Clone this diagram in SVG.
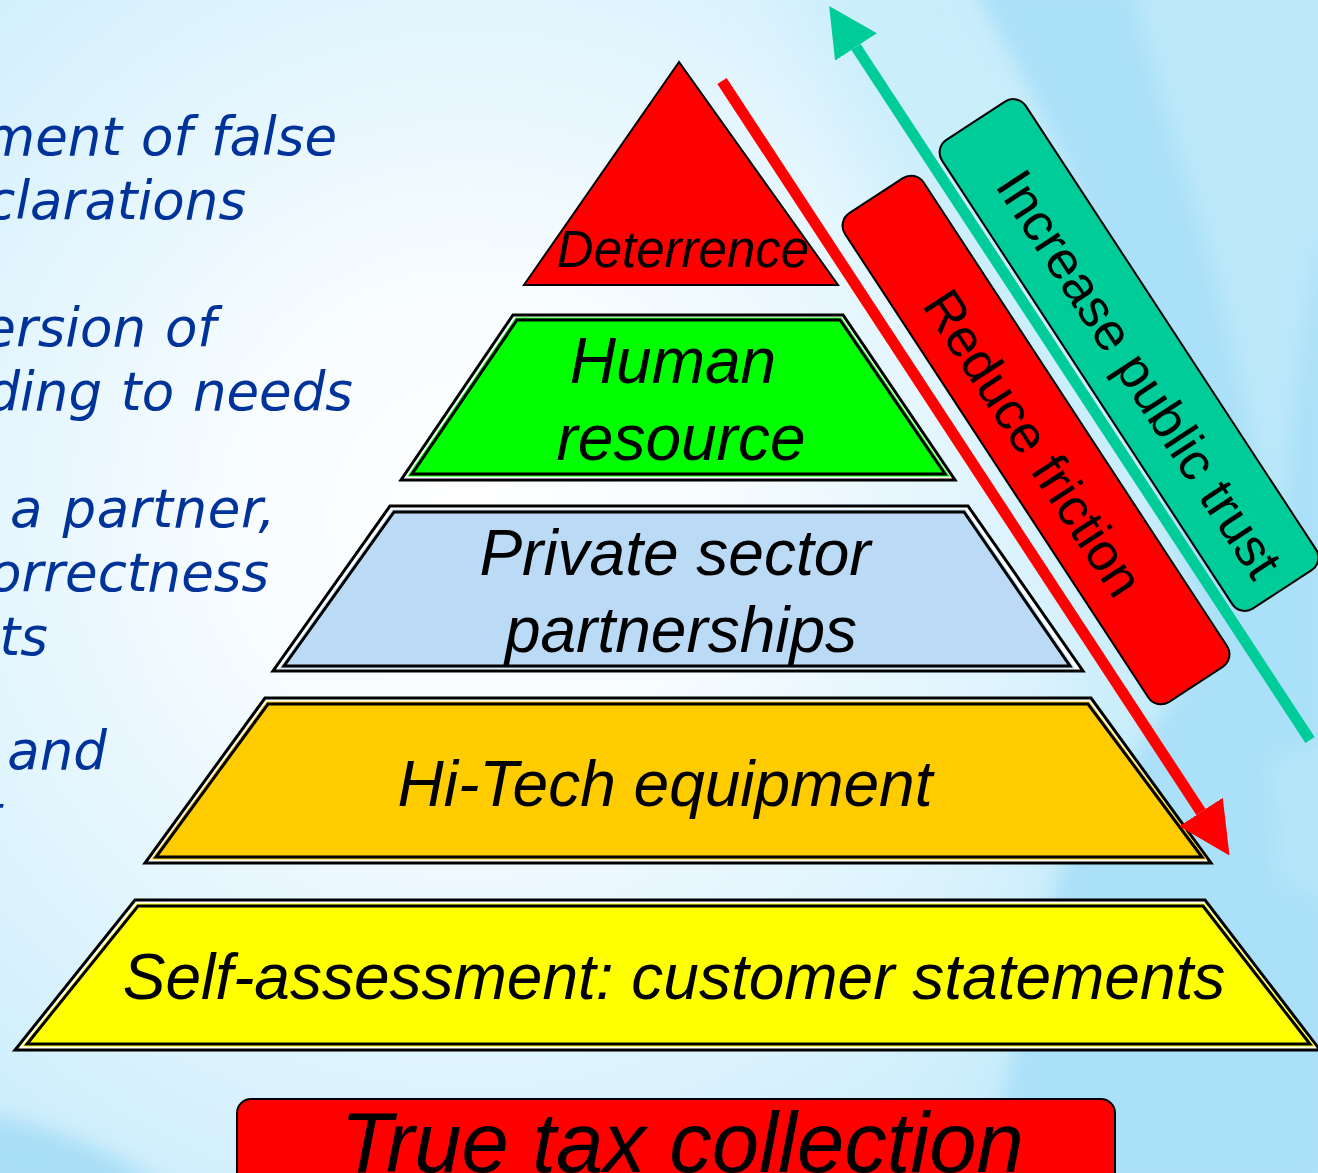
<svg xmlns="http://www.w3.org/2000/svg" width="1318" height="1173" viewBox="0 0 1318 1173">
<style>
.side{font-family:"DejaVu Sans",Verdana,sans-serif;font-style:oblique;font-size:53px;word-spacing:2px;fill:#003399;text-anchor:end}
.lab{font-family:"Liberation Sans",Arial,sans-serif;font-style:italic;fill:#000;text-anchor:middle}
.rot{font-family:"Liberation Sans",Arial,sans-serif;font-size:53px;fill:#000;text-anchor:middle}
.out{fill:#fff;stroke:#000;stroke-width:3}
.inn{stroke:#000;stroke-width:3}
.mid{stroke-width:5;stroke-linejoin:miter}
</style>
<defs>
<radialGradient id="bg" gradientUnits="userSpaceOnUse" cx="470" cy="520" r="960">
<stop offset="0" stop-color="#ffffff"/><stop offset="0.25" stop-color="#f7fcff"/><stop offset="0.6" stop-color="#dcf3fd"/><stop offset="1" stop-color="#bde8fa"/>
</radialGradient>
<filter id="soft" x="-20%" y="-20%" width="140%" height="140%"><feGaussianBlur stdDeviation="10"/></filter>
<filter id="softer" x="-30%" y="-30%" width="160%" height="160%"><feGaussianBlur stdDeviation="35"/></filter>
<marker id="headG" markerUnits="userSpaceOnUse" markerWidth="49" markerHeight="50" refX="0" refY="25" orient="auto"><path d="M0 0L49 25L0 50z" fill="#00cc99"/></marker>
<marker id="headR" markerUnits="userSpaceOnUse" markerWidth="52" markerHeight="52" refX="0" refY="26" orient="auto"><path d="M0 0L52 26L0 52z" fill="#ff0000"/></marker>
</defs>
<rect width="1318" height="1173" fill="url(#bg)"/>
<path id="background-haze" filter="url(#softer)" d="M780 -40L1000 -40L1250 640L1030 1200L940 1200L1100 640Z" fill="#c4ecfb" opacity="0.7"/>
<g id="background-swooshes" filter="url(#soft)">
<path d="M970 -20C1040 110 1090 200 1120 340C1150 480 1180 560 1210 640L1060 870L1000 1110L1090 1190L1330 1190L1330 -20Z" fill="#aae0f8"/>
<path d="M1130 -20C1150 60 1170 130 1190 190C1225 300 1250 420 1275 560C1290 480 1300 300 1330 220L1330 -20Z" fill="#bce8f9"/>
<path d="M1270 760L1330 740L1330 900L1280 880Z" fill="#b5e6f9"/>
<path d="M-20 1112C60 1130 110 1150 170 1190L-20 1190Z" fill="#a8def6"/>
</g>
<g id="side-text">
<text class="side" x="337" y="155">ment of false</text>
<text class="side" x="246" y="219">clarations</text>
<text class="side" x="216" y="346">ersion of</text>
<text class="side" x="353" y="410">ding to needs</text>
<text class="side" x="276" y="527" letter-spacing="0.6">a partner,</text>
<text class="side" x="269" y="591">orrectness</text>
<text class="side" x="48" y="655">ts</text>
<text class="side" x="107" y="769">and</text>
<text class="side" x="2" y="833">t</text>
</g>
<g id="connectors" fill="none" stroke-width="11">
<line x1="1310" y1="740" x2="856" y2="47" stroke="#00cc99" marker-end="url(#headG)"/>
</g>
<g id="node-deterrence">
<polygon points="679,62 524,285 838,285" fill="#ff0000" stroke="#000" stroke-width="2"/>
<text class="lab" x="683" y="267" font-size="51">Deterrence</text>
</g>
<g id="node-human">
<polygon class="out" points="513,315 843,315 955,480 401,480"/>
<polygon class="mid" fill="#00ff00" stroke="#00ff00" points="517,320 840,320 945,474 412,474"/>
<polygon class="inn" fill="#00ff00" points="517,320 840,320 945,474 412,474"/>
<text class="lab" x="673" y="383" font-size="64">Human</text>
<text class="lab" x="681" y="460" font-size="64">resource</text>
</g>
<g id="node-private">
<polygon class="out" points="390,506 968,506 1083,671 273,671"/>
<polygon class="mid" fill="#bbdaf5" stroke="#bbdaf5" points="394,512 964,512 1070,666 284,666"/>
<polygon class="inn" fill="#bbdaf5" points="394,512 964,512 1070,666 284,666"/>
<text class="lab" x="675" y="575" font-size="64">Private sector</text>
<text class="lab" x="681" y="652" font-size="64">partnerships</text>
</g>
<g id="node-hitech">
<polygon class="out" points="265,698 1091,698 1211,863 145,863"/>
<polygon class="mid" fill="#ffcc00" stroke="#ffcc00" points="268,704 1088,704 1202,857 156,857"/>
<polygon class="inn" fill="#ffcc00" points="268,704 1088,704 1202,857 156,857"/>
<text class="lab" x="665" y="806" font-size="64">Hi-Tech equipment</text>
</g>
<g id="node-self">
<polygon class="out" points="135,900 1205,900 1320,1050 15,1050"/>
<polygon class="mid" fill="#ffff00" stroke="#ffff00" points="138,906 1203,906 1310,1044 27,1044"/>
<polygon class="inn" fill="#ffff00" points="138,906 1203,906 1310,1044 27,1044"/>
<text class="lab" x="674" y="999" font-size="64">Self-assessment: customer statements</text>
</g>
<g id="node-reduce">
<rect x="-292" y="-47" width="584" height="94" rx="15" transform="translate(1036 440) rotate(56.8)" fill="#ff0000" stroke="#000" stroke-width="2"/>
<text class="rot" transform="translate(1018 453) rotate(56.8)">Reduce friction</text>
</g>
<g id="node-increase">
<rect x="-280" y="-50" width="560" height="100" rx="15" transform="translate(1129 355) rotate(56.8)" fill="#00cc99" stroke="#000" stroke-width="2"/>
<text class="rot" transform="translate(1124 384) rotate(56.8)">Increase public trust</text>
</g>
<g id="connector-reduce" fill="none" stroke-width="11">
<line x1="722" y1="81" x2="1201" y2="812" stroke="#ff0000" marker-end="url(#headR)"/>
</g>
<g id="node-true-tax">
<rect x="237" y="1099" width="878" height="100" rx="14" fill="#ff0000" stroke="#000" stroke-width="2"/>
<text class="lab" x="682" y="1172" font-size="85">True tax collection</text>
</g>
</svg>
